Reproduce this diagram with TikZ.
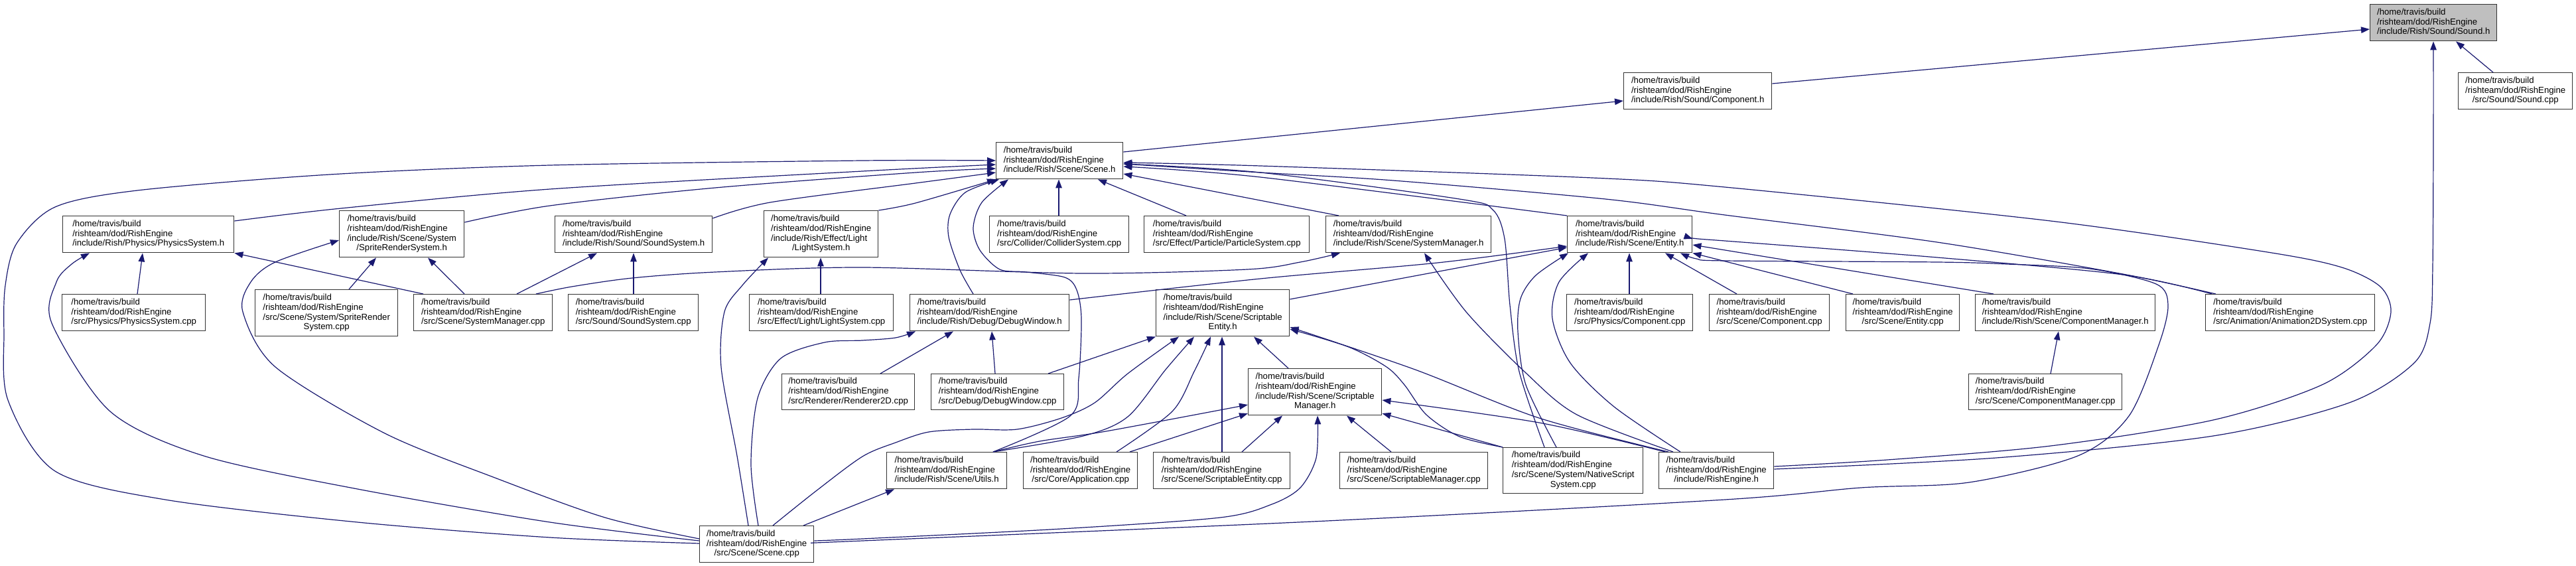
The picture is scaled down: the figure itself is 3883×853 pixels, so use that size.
\documentclass[tikz,border=0pt]{standalone}
\usepackage{fontspec}
\setmainfont{Liberation Sans}
\usetikzlibrary{arrows.meta}
\definecolor{edgeblue}{RGB}{25,25,112}
\definecolor{nodegray}{RGB}{191,191,191}
\newcommand\txthree[1]{\begin{tabular}{@{}l@{}}/home/travis/build\\/rishteam/dod/RishEngine\\\multicolumn{1}{@{}c@{}}{#1}\end{tabular}}
\newcommand\txfour[2]{\begin{tabular}{@{}l@{}}/home/travis/build\\/rishteam/dod/RishEngine\\#1\\\multicolumn{1}{@{}c@{}}{#2}\end{tabular}}
\newcommand\bx[7][white]{\node[filebox,fill=#1,minimum width={#5-#3},minimum height={#6-#4}] (#2) at (#3,#4) {#7};}
\begin{document}
\begin{tikzpicture}[x=1pt,y=-1pt,
  filebox/.style={draw=black!80,line width=1.4pt,anchor=north west,inner sep=0pt,font=\fontsize{13.2}{14.8}\selectfont},
  dep/.style={draw=edgeblue,line width=1.2pt,-{Triangle[length=13pt,width=9.5pt]}}]
\useasboundingbox (0,0) rectangle (3883,853);
\fill[white] (0,0) rectangle (3883,853);
% ---------- nodes ----------
\bx[nodegray]{soundh}{3572}{6}{3763}{61}{\txthree{/include/Rish/Sound/Sound.h}}
\bx{compsnd}{2447}{109}{2670}{164}{\txthree{/include/Rish/Sound/Component.h}}
\bx{soundcpp}{3705}{109}{3877}{164}{\txthree{/src/Sound/Sound.cpp}}
\bx{sceneh}{1501}{214}{1692}{269}{\txthree{/include/Rish/Scene/Scene.h}}
\bx{physh}{94}{325}{352}{380}{\txthree{/include/Rish/Physics/PhysicsSystem.h}}
\bx{spriteh}{511}{317}{699}{387}{\txfour{/include/Rish/Scene/System}{/SpriteRenderSystem.h}}
\bx{sndsysh}{836}{325}{1073}{380}{\txthree{/include/Rish/Sound/SoundSystem.h}}
\bx{lighth}{1151}{317}{1323}{387}{\txfour{/include/Rish/Effect/Light}{/LightSystem.h}}
\bx{collcpp}{1491}{325}{1701}{380}{\txthree{/src/Collider/ColliderSystem.cpp}}
\bx{partcpp}{1724}{325}{1973}{380}{\txthree{/src/Effect/Particle/ParticleSystem.cpp}}
\bx{sysmgrh}{1998}{325}{2247}{380}{\txthree{/include/Rish/Scene/SystemManager.h}}
\bx{entityh}{2362}{325}{2550}{380}{\txthree{/include/Rish/Scene/Entity.h}}
\bx{physcpp}{93}{443}{309}{498}{\txthree{/src/Physics/PhysicsSystem.cpp}}
\bx{spritecpp}{384}{436}{599}{506}{\txfour{/src/Scene/System/SpriteRender}{System.cpp}}
\bx{sysmgrcpp}{623}{443}{832}{498}{\txthree{/src/Scene/SystemManager.cpp}}
\bx{sndsyscpp}{856}{443}{1052}{498}{\txthree{/src/Sound/SoundSystem.cpp}}
\bx{lightcpp}{1129}{443}{1346}{498}{\txthree{/src/Effect/Light/LightSystem.cpp}}
\bx{dbgh}{1371}{443}{1611}{498}{\txthree{/include/Rish/Debug/DebugWindow.h}}
\bx{scrent}{1742}{436}{1943}{506}{\txfour{/include/Rish/Scene/Scriptable}{Entity.h}}
\bx{physcompcpp}{2361}{443}{2551}{498}{\txthree{/src/Physics/Component.cpp}}
\bx{scenecompcpp}{2576}{443}{2757}{498}{\txthree{/src/Scene/Component.cpp}}
\bx{entitycpp}{2782}{443}{2953}{498}{\txthree{/src/Scene/Entity.cpp}}
\bx{compmgrh}{2977}{443}{3248}{498}{\txthree{/include/Rish/Scene/ComponentManager.h}}
\bx{animcpp}{3324}{443}{3579}{498}{\txthree{/src/Animation/Animation2DSystem.cpp}}
\bx{rendcpp}{1178}{563}{1378}{617}{\txthree{/src/Renderer/Renderer2D.cpp}}
\bx{dbgcpp}{1403}{563}{1603}{617}{\txthree{/src/Debug/DebugWindow.cpp}}
\bx{scrmgrh}{1881}{555}{2082}{625}{\txfour{/include/Rish/Scene/Scriptable}{Manager.h}}
\bx{compmgrcpp}{2967}{563}{3198}{617}{\txthree{/src/Scene/ComponentManager.cpp}}
\bx{utilsh}{1336}{681}{1517}{736}{\txthree{/include/Rish/Scene/Utils.h}}
\bx{appcpp}{1542}{681}{1714}{736}{\txthree{/src/Core/Application.cpp}}
\bx{screntcpp}{1738}{681}{1944}{736}{\txthree{/src/Scene/ScriptableEntity.cpp}}
\bx{scrmgrcpp}{2019}{681}{2242}{736}{\txthree{/src/Scene/ScriptableManager.cpp}}
\bx{nativecpp}{2265}{674}{2476}{743}{\txfour{/src/Scene/System/NativeScript}{System.cpp}}
\bx{rishh}{2500}{681}{2673}{736}{\txthree{/include/RishEngine.h}}
\bx{scenecpp}{1054}{792}{1226}{847}{\txthree{/src/Scene/Scene.cpp}}
% ---------- edges into Sound.h ----------
\draw[dep] (compsnd.east |- 0,126) -- (soundh.west |- 0,44);
\draw[dep] (soundcpp.north -| 3758,0) -- (soundh.south -| 3702,0);
\draw[dep] plot[smooth] coordinates {(rishh.east |- 0,707) (3009,690) (3336,657) (3541,607) (3639,547) (3663,487) (3667,400) (3668,200) (soundh.south -| 3668,0)};
% ---------- Component.h ----------
\draw[dep] (sceneh.east |- 0,229) -- (compsnd.west |- 0,152);
% ---------- edges into Scene.h ----------
\draw[dep] plot[smooth] coordinates {(scenecpp.west |- 0,819) (829,810) (539,787) (249,753) (83,710) (12,603) (6,500) (8,430) (25,367) (83,312) (207,287) (497,263) (829,249) (1300,242) (sceneh.west |- 0,242)};
\draw[dep] plot[smooth] coordinates {(physh.east |- 0,333) (514,314) (829,285) (1300,258) (sceneh.west |- 0,248)};
\draw[dep] plot[smooth] coordinates {(spriteh.east |- 0,335) (829,310) (1078,283) (1380,260) (sceneh.west |- 0,254)};
\draw[dep] plot[smooth] coordinates {(sndsysh.east |- 0,329) (1161,305) (1380,276) (sceneh.west |- 0,260)};
\draw[dep] plot[smooth] coordinates {(lighth.north east) (1380,306) (sceneh.south west)};
\draw[dep] (collcpp.north -| 1596,0) -- (sceneh.south -| 1596,0);
\draw[dep] (partcpp.north -| 1788,0) -- (sceneh.south -| 1655,0);
\draw[dep] (sysmgrh.north -| 2018,0) -- (sceneh.east |- 0,262);
\draw[dep] plot[smooth] coordinates {(entityh.north west) (1900,267) (sceneh.east |- 0,251)};
\draw[dep] plot[smooth] coordinates {(nativecpp.north -| 2328,0) (2290,560) (2276,460) (2268,360) (2250,316) (2200,300) (1900,260) (sceneh.east |- 0,247)};
\draw[dep] plot[smooth] coordinates {(animcpp.north -| 3340,0) (3200,413) (2920,365) (2600,324) (2420,300) (2100,272) (1900,260) (sceneh.east |- 0,247)};
\draw[dep] plot[smooth] coordinates {(rishh.east |- 0,703) (2845,693) (3091,672) (3336,633) (3500,580) (3582,520) (3604,470) (3588,432) (3530,403) (3418,380) (3091,333) (2600,282) (2400,268) (1900,250) (sceneh.east |- 0,245)};
\draw[dep] plot[smooth] coordinates {(dbgh.north -| 1467,0) (1447,407) (1430,357) (1432,323) (1455,290) (sceneh.south -| 1506,0)};
\draw[dep] plot[smooth] coordinates {(utilsh.north -| 1497,0) (1613,627) (1626,570) (1630,480) (1623,437) (1605,418) (1547,410) (1507,406) (1477,377) (1467,343) (1480,305) (sceneh.south -| 1520,0)};
% ---------- Scene.cpp includes ----------
\draw[dep] plot[smooth] coordinates {(scenecpp.west |- 0,815) (829,787) (539,737) (307,687) (166,620) (78,487) (85,425) (108,398) (physh.south -| 135,0)};
\draw[dep] plot[smooth] coordinates {(scenecpp.west |- 0,812) (912,780) (746,720) (580,653) (415,553) (366,470) (378,425) (415,395) (spriteh.west |- 0,362)};
\draw[dep] plot[smooth] coordinates {(scenecpp.north -| 1128,0) (1111,687) (1087,553) (1092,470) (1119,430) (lighth.south -| 1158,0)};
\draw[dep] plot[smooth] coordinates {(scenecpp.north -| 1143,0) (1132,700) (1142,600) (1177,540) (1243,516) (1300,513) (1350,509) (dbgh.south -| 1380,0)};
\draw[dep] plot[smooth] coordinates {(scenecpp.north -| 1165,0) (1230,740) (1300,688) (1350,667) (1400,651) (1467,647) (1533,647) (1600,630) (1650,607) (1700,563) (scrent.south -| 1777,0)};
\draw[dep] (scenecpp.north -| 1211,0) -- (utilsh.south -| 1348,0);
\draw[dep] plot[smooth] coordinates {(scenecpp.east |- 0,815) (1300,812) (1600,797) (1839,780) (1917,760) (1960,735) (1984,690) (scrmgrh.south -| 1986,0)};
\draw[dep] plot[smooth] coordinates {(scenecpp.east |- 0,818) (1300,815) (2000,785) (2600,753) (2805,735) (2968,727) (3132,687) (3209,627) (3254,520) (3268,460) (3250,428) (3150,405) (3025,398) (2920,395) (2600,393) (2557,390) (entityh.south -| 2533,0)};
% ---------- row 3 headers ----------
\draw[dep] (physcpp.north -| 207,0) -- (physh.south -| 215,0);
\draw[dep] (sysmgrcpp.north -| 638,0) -- (physh.south east);
\draw[dep] (spritecpp.north -| 526,0) -- (spriteh.south -| 567,0);
\draw[dep] (sysmgrcpp.north -| 700,0) -- (spriteh.south -| 645,0);
\draw[dep] (sysmgrcpp.north -| 779,0) -- (sndsysh.south -| 900,0);
\draw[dep] (sndsyscpp.north -| 955,0) -- (sndsysh.south -| 955,0);
\draw[dep] plot[smooth] coordinates {(sysmgrcpp.north -| 808,0) (862,432) (953,419) (1078,410) (1300,403) (1632,412) (1880,406) (1960,395) (sysmgrh.south -| 2020,0)};
\draw[dep] (lightcpp.north -| 1237,0) -- (lighth.south -| 1237,0);
\draw[dep] plot[smooth] coordinates {(rishh.north -| 2522,0) (2377,625) (2300,562) (2210,470) (sysmgrh.south -| 2147,0)};
% ---------- Entity.h ----------
\draw[dep] plot[smooth] coordinates {(dbgh.east |- 0,452) (1900,420) (2167,396) (entityh.west |- 0,371)};
\draw[dep] (scrent.east |- 0,451) -- (entityh.west |- 0,373);
\draw[dep] plot[smooth] coordinates {(nativecpp.north -| 2346,0) (2300,580) (2288,500) (2292,450) (2315,415) (entityh.south -| 2364,0)};
\draw[dep] plot[smooth] coordinates {(rishh.north -| 2533,0) (2433,613) (2367,547) (2340,480) (2350,425) (entityh.south -| 2394,0)};
\draw[dep] (physcompcpp.north -| 2456,0) -- (entityh.south -| 2456,0);
\draw[dep] (scenecompcpp.north -| 2618,0) -- (entityh.south -| 2510,0);
\draw[dep] (entitycpp.north -| 2793,0) -- (entityh.south east);
\draw[dep] (compmgrh.north -| 3005,0) -- (entityh.east |- 0,369);
\draw[dep] plot[smooth] coordinates {(animcpp.north -| 3334,0) (3200,414) (2920,388) (2600,363) (entityh.east |- 0,360)};
% ---------- DebugWindow.h ----------
\draw[dep] (rendcpp.north -| 1327,0) -- (dbgh.south -| 1437,0);
\draw[dep] (dbgcpp.north -| 1500,0) -- (dbgh.south -| 1495,0);
% ---------- ScriptableEntity.h ----------
\draw[dep] (dbgcpp.north -| 1580,0) -- (scrent.south west);
\draw[dep] plot[smooth] coordinates {(utilsh.north -| 1497,0) (1633,657) (1700,628) (1757,557) (scrent.south -| 1800,0)};
\draw[dep] plot[smooth] coordinates {(appcpp.north -| 1683,0) (1767,620) (1800,560) (scrent.south -| 1825,0)};
\draw[dep] (screntcpp.north -| 1842,0) -- (scrent.south -| 1842,0);
\draw[dep] (scrmgrh.north -| 1942,0) -- (scrent.south -| 1890,0);
\draw[dep] plot[smooth] coordinates {(nativecpp.north west) (2200,658) (2150,625) (2117,580) (2090,553) (2033,523) (scrent.east |- 0,496)};
\draw[dep] plot[smooth] coordinates {(rishh.north -| 2515,0) (2320,630) (2133,557) (scrent.east |- 0,493)};
% ---------- ScriptableManager.h ----------
\draw[dep] plot[smooth] coordinates {(utilsh.north -| 1497,0) (1567,665) (1667,650) (scrmgrh.west |- 0,610)};
\draw[dep] (appcpp.north -| 1703,0) -- (scrmgrh.west |- 0,623);
\draw[dep] (screntcpp.north -| 1872,0) -- (scrmgrh.south -| 1933,0);
\draw[dep] (scrmgrcpp.north -| 2097,0) -- (scrmgrh.south -| 2030,0);
\draw[dep] plot[smooth] coordinates {(rishh.north -| 2510,0) (2320,637) (scrmgrh.east |- 0,603)};
\draw[dep] (nativecpp.north west) -- (scrmgrh.east |- 0,623);
% ---------- ComponentManager.h ----------
\draw[dep] (compmgrcpp.north -| 3091,0) -- (compmgrh.south -| 3103,0);
\end{tikzpicture}
\end{document}
